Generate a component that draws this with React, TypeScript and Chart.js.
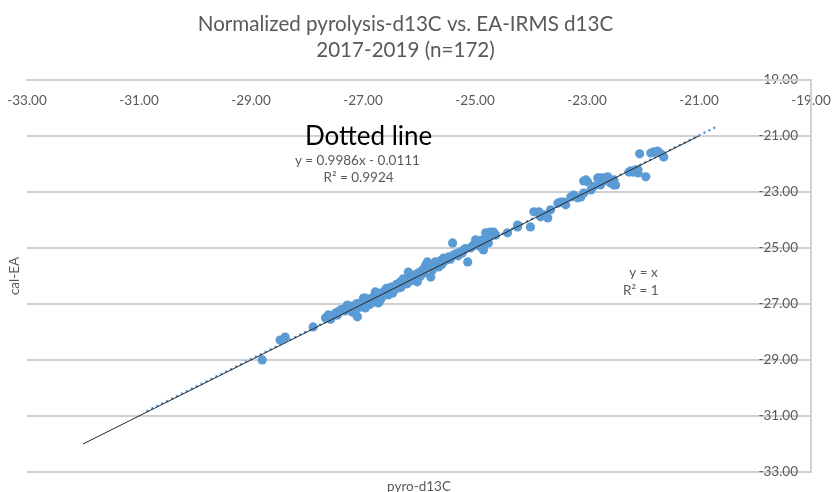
import React, { useEffect, useRef } from 'react';
import { Chart, registerables } from 'chart.js';

Chart.register(...registerables);

const TITLE_LINES = ['Normalized pyrolysis-d13C vs. EA-IRMS d13C', '2017-2019 (n=172)'];
const X_TITLE = 'pyro-d13C';
const Y_TITLE = 'cal-EA';
const AXIS_MIN = -33;
const AXIS_MAX = -19;
const AXIS_STEP = 2;

// pyrolysis d13C (x) and calibrated EA d13C (y)
const PYRO = [
  -28.80, -28.48, -28.39, -27.89, -27.67, -27.62, -27.49, -27.44, -27.40, -27.28,
  -27.26, -27.19, -27.14, -27.10, -27.05, -26.96, -26.92, -26.87, -26.81, -26.74,
  -26.74, -26.69, -26.63, -26.56, -26.47, -26.42, -26.37, -26.35, -26.99, -26.96,
  -26.78, -26.72, -26.65, -26.60, -26.55, -26.46, -26.38, -26.33, -26.30, -26.24,
  -26.19, -26.15, -26.10, -26.03, -26.01, -25.94, -25.88, -25.85, -25.79, -25.76,
  -25.71, -25.65, -25.58, -25.56, -25.47, -25.40, -25.38, -25.26, -25.20, -25.13,
  -25.08, -24.99, -24.95, -24.90, -24.85, -24.81, -24.76, -24.69, -24.63, -24.76,
  -24.42, -24.24, -24.85, -24.78, -24.72, -24.67, -24.24, -24.01, -23.95, -23.86,
  -23.83, -23.77, -23.70, -23.65, -23.47, -23.42, -23.38, -23.29, -23.24, -23.17,
  -23.11, -23.06, -23.02, -22.93, -22.81, -22.76, -22.70, -22.63, -22.58, -22.52,
  -22.18, -22.09, -22.72, -22.52, -22.49, -22.25, -22.13, -22.09, -21.95, -22.06,
  -21.86, -21.81, -21.74, -21.70, -21.63, -23.06, -22.99, -22.76, -22.22, -27.55,
  -27.35, -27.22, -27.12, -27.02, -26.98, -26.90, -26.84, -26.80, -26.70, -26.66,
  -26.58, -26.52, -26.44, -26.40, -26.32, -26.27, -26.21, -26.12, -26.06, -25.98,
  -25.92, -25.82, -25.74, -25.68, -25.62, -25.52, -25.44, -25.33, -25.30, -25.23,
  -25.17, -25.04, -24.97, -24.88, -24.83, -24.74, -24.65, -27.58, -27.46, -27.32,
  -27.17, -27.08, -26.88, -26.76, -26.62, -26.50, -26.28, -26.05, -25.90, -25.60,
  -23.52, -22.88,
];

const CAL = [
  -29.00, -28.29, -28.18, -27.82, -27.50, -27.39, -27.32, -27.29, -27.21, -27.04,
  -27.14, -27.29, -27.32, -27.46, -27.11, -26.79, -27.04, -26.96, -26.93, -26.61,
  -26.96, -26.86, -26.68, -26.57, -26.61, -26.39, -26.43, -26.25, -26.79, -27.14,
  -26.57, -26.96, -26.61, -26.50, -26.68, -26.43, -26.32, -26.21, -26.32, -26.14,
  -25.86, -26.07, -26.04, -26.21, -25.89, -25.79, -25.61, -25.50, -26.04, -25.79,
  -25.50, -25.68, -25.54, -25.36, -25.32, -24.82, -25.25, -25.14, -25.07, -25.50,
  -25.00, -24.71, -24.82, -24.96, -25.07, -24.46, -24.46, -24.46, -24.54, -24.82,
  -24.46, -24.25, -24.79, -24.54, -24.43, -24.43, -24.18, -24.25, -23.71, -23.71,
  -23.89, -23.82, -23.93, -23.64, -23.36, -23.36, -23.46, -23.18, -23.11, -23.21,
  -23.18, -23.04, -22.57, -22.93, -22.50, -22.75, -22.50, -22.46, -22.68, -22.75,
  -22.29, -22.21, -22.64, -22.57, -22.75, -22.29, -22.21, -22.32, -22.46, -21.64,
  -21.61, -21.57, -21.54, -21.61, -21.75, -22.61, -22.64, -22.50, -22.25, -27.42,
  -27.18, -27.08, -27.00, -26.95, -27.02, -26.84, -26.78, -26.86, -26.62, -26.75,
  -26.44, -26.52, -26.50, -26.30, -26.40, -26.22, -26.28, -26.16, -25.95, -26.02,
  -25.90, -25.70, -25.62, -25.58, -25.46, -25.44, -25.40, -25.20, -25.28, -25.18,
  -25.02, -24.92, -24.90, -24.72, -24.88, -24.60, -24.50, -27.55, -27.40, -27.25,
  -27.20, -26.98, -27.02, -26.70, -26.55, -26.40, -26.10, -26.10, -25.72, -25.60,
  -23.40, -22.80,
];

// Excel trendline of the data (equation shown on the chart), with its forecast range
const TREND_SLOPE = 0.9986;
const TREND_INTERCEPT = -0.0111;
const TREND_X = [-30.85, -20.65];
// the y = x reference line
const IDENTITY_X = [-32, -21];

const ANNOTATIONS = [
  { text: 'Dotted line', x: -26.9, y: -21.04, big: true },
  { text: 'y = 0.9986x - 0.0111', x: -27.1, y: -21.89, big: false },
  { text: 'R\u00B2 = 0.9924', x: -27.08, y: -22.5, big: false },
  { text: 'y = x', x: -21.99, y: -25.89, big: false },
  { text: 'R\u00B2 = 1', x: -22.04, y: -26.54, big: false },
];

const FONT = "Lato, 'Liberation Sans', sans-serif";
const TEXT_GRAY = '#595959';
const GRID_GRAY = '#D0D0D0';
const BLUE = '#5B9BD5';

const annotationPlugin = {
  id: 'annotations',
  afterDatasetsDraw(chart: any) {
    const { ctx } = chart;
    const xs = chart.scales.x;
    const ys = chart.scales.y;
    ctx.save();
    ctx.textAlign = 'center';
    ctx.textBaseline = 'middle';
    for (const a of ANNOTATIONS) {
      ctx.font = a.big ? `26px ${FONT}` : `13.5px ${FONT}`;
      ctx.fillStyle = a.big ? '#000000' : TEXT_GRAY;
      ctx.fillText(a.text, xs.getPixelForValue(a.x), ys.getPixelForValue(a.y));
    }
    ctx.restore();
  },
};

const fmt = (v: any) => Number(v).toFixed(2);

export default function App() {
  const ref = useRef<HTMLCanvasElement | null>(null);

  useEffect(() => {
    if (!ref.current) return;
    const points = PYRO.map((x, i) => ({ x, y: CAL[i] }));
    const trend = TREND_X.map((x) => ({ x, y: TREND_SLOPE * x + TREND_INTERCEPT }));
    const identity = IDENTITY_X.map((x) => ({ x, y: x }));
    const tickFont = { family: FONT, size: 13.5 };
    const chart = new Chart(ref.current, {
      type: 'scatter',
      data: {
        datasets: [
          {
            label: 'cal-EA',
            data: points,
            backgroundColor: BLUE,
            borderColor: BLUE,
            borderWidth: 0,
            pointRadius: 4.6,
            order: 3,
          },
          {
            label: 'Linear trend',
            data: trend,
            showLine: true,
            pointRadius: 0,
            borderColor: BLUE,
            borderWidth: 2.6,
            borderDash: [0.01, 5.5],
            borderCapStyle: 'round',
            order: 2,
          },
          {
            label: 'y = x',
            data: identity,
            showLine: true,
            pointRadius: 0,
            borderColor: '#262626',
            borderWidth: 1,
            order: 1,
          },
        ],
      } as any,
      plugins: [annotationPlugin],
      options: {
        animation: false,
        responsive: false,
        events: [],
        layout: { padding: { left: 0, right: 22, top: 11, bottom: 0 } },
        plugins: {
          legend: { display: false },
          tooltip: { enabled: false },
          title: {
            display: true,
            text: TITLE_LINES,
            color: TEXT_GRAY,
            font: { family: FONT, size: 20.6, weight: 'normal', lineHeight: 1.26 },
            padding: { top: 0, bottom: 0 },
          },
        },
        scales: {
          x: {
            type: 'linear',
            position: 'top',
            min: AXIS_MIN,
            max: AXIS_MAX,
            grid: { display: false, drawTicks: false },
            border: { display: true, color: GRID_GRAY, width: 2, z: 1 },
            ticks: {
              stepSize: AXIS_STEP,
              mirror: true,
              padding: 13,
              color: TEXT_GRAY,
              font: tickFont,
              maxRotation: 0,
              autoSkip: false,
              callback: fmt,
            },
            afterFit: (s: any) => {
              s.height = 17;
              s.paddingLeft = 0;
              s.paddingRight = 0;
            },
          },
          y: {
            type: 'linear',
            position: 'right',
            min: AXIS_MIN,
            max: AXIS_MAX,
            grid: { color: GRID_GRAY, lineWidth: 2, drawTicks: false },
            border: { display: true, color: GRID_GRAY, width: 2, z: 1 },
            ticks: {
              stepSize: AXIS_STEP,
              mirror: true,
              padding: -13,
              color: TEXT_GRAY,
              font: tickFont,
              callback: fmt,
            },
            afterFit: (s: any) => { s.width = 0; },
          },
          xTitle: {
            type: 'linear',
            axis: 'x',
            position: 'bottom',
            grid: { display: false, drawTicks: false },
            border: { display: false },
            ticks: { display: false },
            title: {
              display: true,
              text: X_TITLE,
              color: TEXT_GRAY,
              font: { family: FONT, size: 13.5 },
              padding: { top: 0, bottom: -3 },
            },
            afterFit: (s: any) => { s.height = 20; },
          },
          yTitle: {
            type: 'linear',
            axis: 'y',
            position: 'left',
            grid: { display: false, drawTicks: false },
            border: { display: false },
            ticks: { display: false },
            title: {
              display: true,
              text: Y_TITLE,
              color: TEXT_GRAY,
              font: { family: FONT, size: 13.5 },
              padding: { top: 7, bottom: 0 },
            },
            afterFit: (s: any) => { s.width = 27; },
          },
        },
      } as any,
    });
    return () => chart.destroy();
  }, []);

  return (
    <div style={{ position: 'absolute', left: 0, top: 0, width: 833, height: 492, background: '#fff' }}>
      <canvas ref={ref} width={833} height={492} style={{ display: 'block' }} />
    </div>
  );
}
